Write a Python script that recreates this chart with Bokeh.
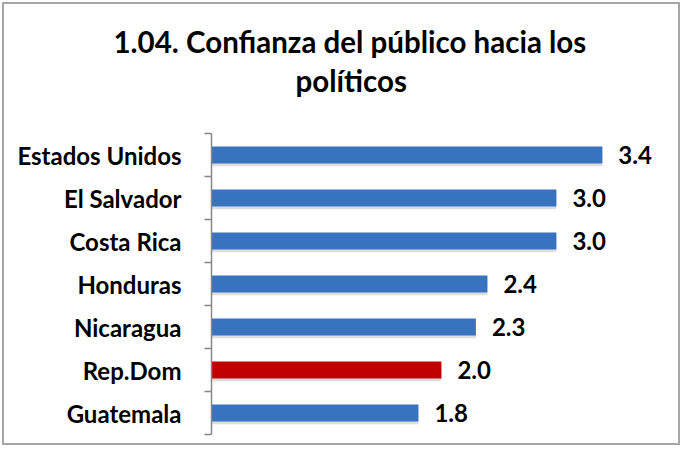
from bokeh.plotting import figure
from bokeh.models import Title, FixedTicker, ColumnDataSource, Range1d
from bokeh.core.properties import value
from bokeh.transform import dodge
from bokeh.embed import file_html
from bokeh.resources import INLINE

# Data (top to bottom as shown)
countries = ["Estados Unidos", "El Salvador", "Costa Rica", "Honduras",
             "Nicaragua", "Rep.Dom", "Guatemala"]
scores = [3.4, 3.0, 3.0, 2.4, 2.3, 2.0, 1.8]
highlight = "Rep.Dom"
title_lines = ["1.04. Confianza del público hacia los", "políticos"]

FONT = "Lato"
n = len(countries)
ypos = [n - 1 - i for i in range(n)]
colors = ["#c00000" if c == highlight else "#3873c0" for c in countries]
labels = ["%.1f" % v for v in scores]

src = ColumnDataSource(dict(y=ypos, v=scores, c=colors, lab=labels))

p = figure(width=678, height=443, output_backend="svg", toolbar_location=None,
           x_range=Range1d(0, 4.01), y_range=Range1d(-0.5, n - 0.5),
           min_border_left=207, min_border_top=129, min_border_bottom=13,
           min_border_right=10)
p.outline_line_color = None
p.grid.visible = False
p.xaxis.visible = False
p.styles = {"border": "2px solid #a6a6a6", "margin": "2px"}

# soft shadow under the bars
p.hbar(y=dodge("y", -0.06, range=p.y_range), right="v", left=0, height=0.40,
       source=src, fill_color="#000000", fill_alpha=0.13, line_color=None)
p.hbar(y="y", right="v", left=0, height=0.40, source=src,
       fill_color="c", line_color=None)

p.text(x="v", y="y", text="lab", source=src, x_offset=16,
       text_baseline="middle", text_align="left",
       text_font=value(FONT), text_font_style="bold",
       text_font_size="24px", text_color="#000000")

ax = p.yaxis[0]
ax.ticker = FixedTicker(ticks=ypos, minor_ticks=[k - 0.5 for k in range(n + 1)])
ax.major_label_overrides = {y: c for y, c in zip(ypos, countries)}
ax.major_tick_line_color = None
ax.major_tick_out = 0
ax.major_tick_in = 0
ax.minor_tick_line_color = "#868686"
ax.minor_tick_line_width = 1.5
ax.minor_tick_out = 7
ax.minor_tick_in = 0
ax.axis_line_color = "#868686"
ax.axis_line_width = 1.5
ax.major_label_standoff = 23
ax.major_label_text_font = FONT
ax.major_label_text_font_style = "bold"
ax.major_label_text_font_size = "24px"
ax.major_label_text_color = "#000000"

# spacer between plot and title, then title lines (nearest first)
p.add_layout(Title(text=" ", standoff=0, text_font=FONT,
                   text_font_size="26.5px"), "above")
for txt, off, so in zip(reversed(title_lines), [84, -98], [4, 0]):
    p.add_layout(Title(text=txt, align="left", offset=off, standoff=so,
                       text_font=FONT, text_font_style="bold",
                       text_font_size="29.5px", text_color="#000000"), "above")

open("out.html", "w").write(file_html(p, INLINE))
